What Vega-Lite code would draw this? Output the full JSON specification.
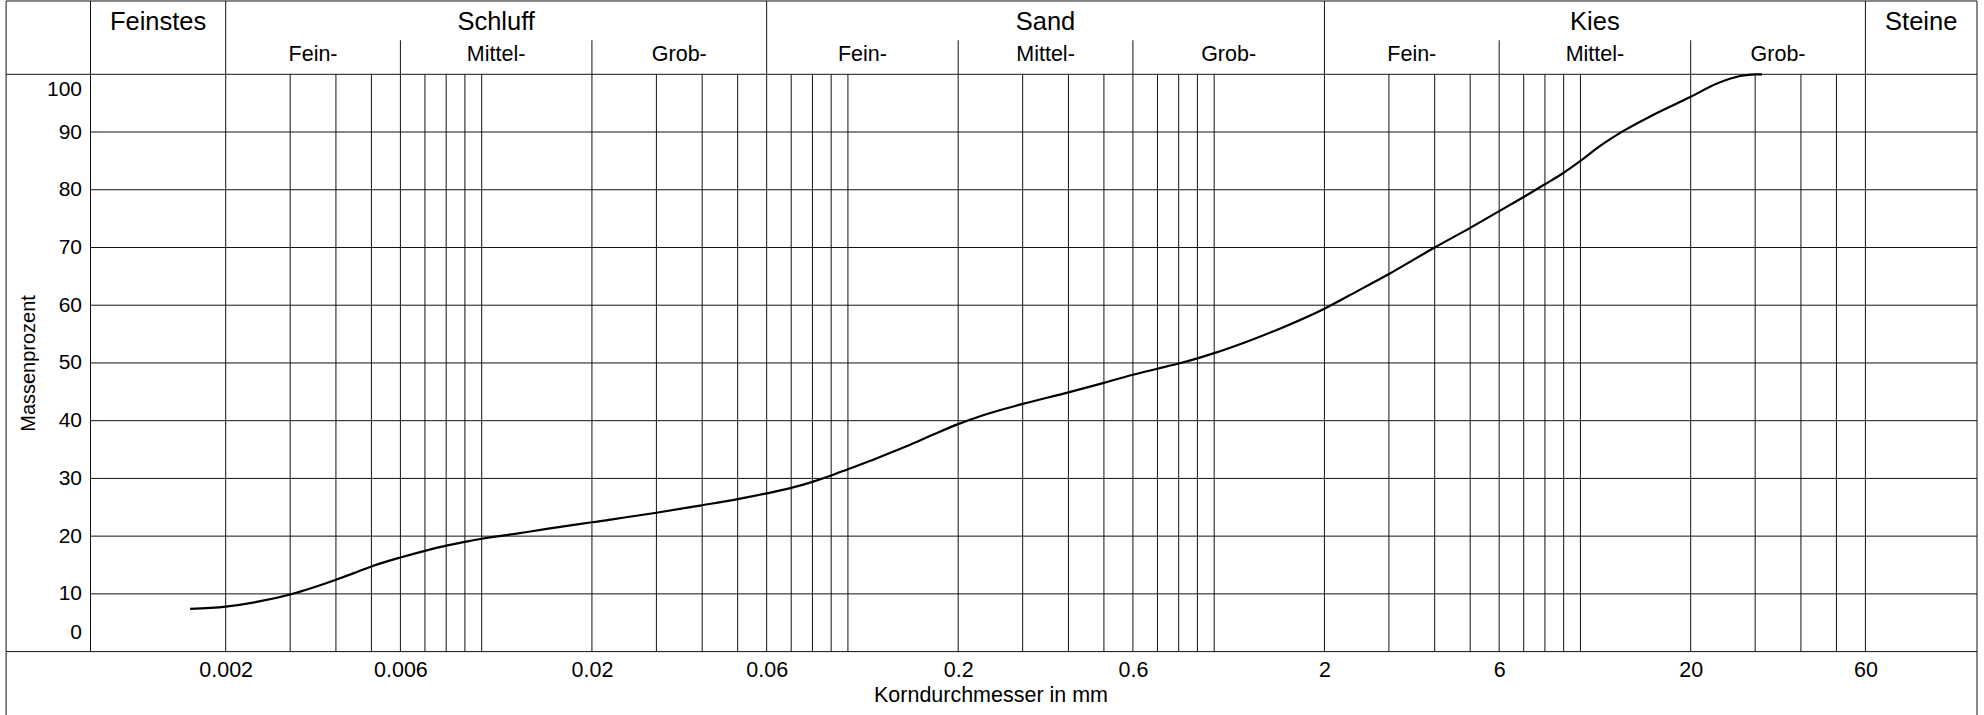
{
  "$schema": "https://vega.github.io/schema/vega-lite/v6.json",
  "width": 1886.5,
  "height": 577.3,
  "autosize": {"type": "none"},
  "padding": {"left": 90.5, "top": 74.3, "right": 7, "bottom": 63.2},
  "background": "white",
  "config": {"font": "Liberation Sans", "view": {"stroke": null}},
  "datasets": {
    "curve": [
      {"d": 0.0016, "p": 7.4}, {"d": 0.002, "p": 7.8}, {"d": 0.00243, "p": 8.6}, {"d": 0.003, "p": 9.9},
      {"d": 0.00347, "p": 11.1}, {"d": 0.004, "p": 12.45}, {"d": 0.00446, "p": 13.55}, {"d": 0.005, "p": 14.75},
      {"d": 0.006, "p": 16.3}, {"d": 0.007, "p": 17.45}, {"d": 0.008, "p": 18.35}, {"d": 0.009, "p": 19.0},
      {"d": 0.01, "p": 19.55}, {"d": 0.0122, "p": 20.35}, {"d": 0.01505, "p": 21.25}, {"d": 0.02, "p": 22.4},
      {"d": 0.03, "p": 24.05}, {"d": 0.0395, "p": 25.3}, {"d": 0.05, "p": 26.4}, {"d": 0.06, "p": 27.4},
      {"d": 0.07, "p": 28.35}, {"d": 0.08, "p": 29.4}, {"d": 0.09, "p": 30.5}, {"d": 0.1, "p": 31.6},
      {"d": 0.12, "p": 33.5}, {"d": 0.145, "p": 35.6}, {"d": 0.171, "p": 37.6}, {"d": 0.2, "p": 39.4},
      {"d": 0.234, "p": 40.95}, {"d": 0.3, "p": 42.9}, {"d": 0.4, "p": 44.9}, {"d": 0.5, "p": 46.55},
      {"d": 0.6, "p": 47.95}, {"d": 0.7, "p": 49.0}, {"d": 0.8, "p": 49.9}, {"d": 0.9, "p": 50.8},
      {"d": 1.0, "p": 51.7}, {"d": 1.253, "p": 53.9}, {"d": 1.545, "p": 56.2}, {"d": 2, "p": 59.4},
      {"d": 2.453, "p": 62.4}, {"d": 3, "p": 65.4}, {"d": 4, "p": 70.0}, {"d": 5, "p": 73.4},
      {"d": 6, "p": 76.3}, {"d": 7, "p": 78.75}, {"d": 8, "p": 80.95}, {"d": 9, "p": 82.95},
      {"d": 10, "p": 85.0}, {"d": 11.32, "p": 87.6}, {"d": 13.11, "p": 90.2}, {"d": 15.5, "p": 92.7},
      {"d": 20, "p": 96.1}, {"d": 23.6, "p": 98.4}, {"d": 27.3, "p": 99.7}, {"d": 30, "p": 100}, {"d": 31.3, "p": 100}
    ],
    "minor": [
      {"d": 0.003}, {"d": 0.004}, {"d": 0.005}, {"d": 0.007}, {"d": 0.008}, {"d": 0.009}, {"d": 0.01},
      {"d": 0.03}, {"d": 0.04}, {"d": 0.05}, {"d": 0.07}, {"d": 0.08}, {"d": 0.09}, {"d": 0.1},
      {"d": 0.3}, {"d": 0.4}, {"d": 0.5}, {"d": 0.7}, {"d": 0.8}, {"d": 0.9}, {"d": 1},
      {"d": 3}, {"d": 4}, {"d": 5}, {"d": 7}, {"d": 8}, {"d": 9}, {"d": 10},
      {"d": 30}, {"d": 40}, {"d": 50}
    ],
    "main": [{"d": 0.000855}, {"d": 0.002}, {"d": 0.06}, {"d": 2}, {"d": 60}],
    "sub": [{"d": 0.006}, {"d": 0.02}, {"d": 0.2}, {"d": 0.6}, {"d": 6}, {"d": 20}],
    "border": [{"d": 0.000503}, {"d": 121}],
    "hgrid": [{"p": 10}, {"p": 20}, {"p": 30}, {"p": 40}, {"p": 50}, {"p": 60}, {"p": 70}, {"p": 80}, {"p": 90}],
    "hframe": [{"p": 112.7}, {"p": 100}, {"p": 0}],
    "mainLabels": [
      {"label": "Feinstes", "d": 0.001308}, {"label": "Schluff", "d": 0.01095}, {"label": "Sand", "d": 0.3464},
      {"label": "Kies", "d": 10.95}, {"label": "Steine", "d": 85.2}
    ],
    "subLabels": [
      {"label": "Fein-", "d": 0.003464}, {"label": "Mittel-", "d": 0.01095}, {"label": "Grob-", "d": 0.03464},
      {"label": "Fein-", "d": 0.1095}, {"label": "Mittel-", "d": 0.3464}, {"label": "Grob-", "d": 1.095},
      {"label": "Fein-", "d": 3.464}, {"label": "Mittel-", "d": 10.95}, {"label": "Grob-", "d": 34.64}
    ]
  },
  "layer": [
    {
      "data": {"name": "minor"},
      "mark": {"type": "rule", "color": "#111", "strokeWidth": 1},
      "encoding": {
        "x": {"field": "d", "type": "quantitative",
          "scale": {"type": "log", "domain": [0.000855, 121], "nice": false},
          "axis": {
            "values": [0.002, 0.006, 0.02, 0.06, 0.2, 0.6, 2, 6, 20, 60],
            "format": "~g", "grid": false, "ticks": false, "domain": false,
            "labelFontSize": 21.5, "labelColor": "#000", "labelPadding": 8,
            "title": "Korndurchmesser in mm", "titleFontSize": 21.5, "titleFontWeight": "normal",
            "titleColor": "#000", "titlePadding": 3, "titleX": 900
          }
        },
        "y": {"datum": 0, "type": "quantitative",
          "scale": {"domain": [0, 100], "nice": false, "zero": true},
          "axis": {
            "values": [0, 10, 20, 30, 40, 50, 60, 70, 80, 90, 100],
            "grid": false, "ticks": false, "domain": false, "labelFlush": true,
            "labelOffset": {"condition": [{"test": "datum.value == 0", "value": -9}, {"test": "datum.value == 100", "value": 4}], "value": 0},
            "labelFontSize": 21, "labelColor": "#000", "labelPadding": 9,
            "title": "Massenprozent", "titleFontSize": 20, "titleFontWeight": "normal",
            "titleColor": "#000", "titlePadding": 8
          }
        },
        "y2": {"datum": 100}
      }
    },
    {
      "data": {"name": "main"},
      "mark": {"type": "rule", "color": "#111", "strokeWidth": 1},
      "encoding": {
        "x": {"field": "d", "type": "quantitative"},
        "y": {"datum": 112.7, "type": "quantitative"},
        "y2": {"datum": 0}
      }
    },
    {
      "data": {"name": "sub"},
      "mark": {"type": "rule", "color": "#111", "strokeWidth": 1},
      "encoding": {
        "x": {"field": "d", "type": "quantitative"},
        "y": {"datum": 105.9, "type": "quantitative"},
        "y2": {"datum": 0}
      }
    },
    {
      "data": {"name": "border"},
      "mark": {"type": "rule", "color": "#111", "strokeWidth": 1},
      "encoding": {
        "x": {"field": "d", "type": "quantitative"},
        "y": {"datum": 112.7, "type": "quantitative"},
        "y2": {"datum": -11.5}
      }
    },
    {
      "data": {"name": "hgrid"},
      "mark": {"type": "rule", "color": "#111", "strokeWidth": 1},
      "encoding": {
        "y": {"field": "p", "type": "quantitative"},
        "x": {"datum": 0.000855, "type": "quantitative"},
        "x2": {"datum": 121}
      }
    },
    {
      "data": {"name": "hframe"},
      "mark": {"type": "rule", "color": "#111", "strokeWidth": 1},
      "encoding": {
        "y": {"field": "p", "type": "quantitative"},
        "x": {"datum": 0.000503, "type": "quantitative"},
        "x2": {"datum": 121}
      }
    },
    {
      "data": {"name": "mainLabels"},
      "mark": {"type": "text", "fontSize": 25.5, "color": "#000", "align": "center", "baseline": "middle"},
      "encoding": {
        "x": {"field": "d", "type": "quantitative"},
        "y": {"datum": 109.1, "type": "quantitative"},
        "text": {"field": "label"}
      }
    },
    {
      "data": {"name": "subLabels"},
      "mark": {"type": "text", "fontSize": 21.5, "color": "#000", "align": "center", "baseline": "middle"},
      "encoding": {
        "x": {"field": "d", "type": "quantitative"},
        "y": {"datum": 103.4, "type": "quantitative"},
        "text": {"field": "label"}
      }
    },
    {
      "data": {"name": "curve"},
      "mark": {"type": "line", "color": "#000", "strokeWidth": 2.2, "interpolate": "monotone"},
      "encoding": {
        "x": {"field": "d", "type": "quantitative"},
        "y": {"field": "p", "type": "quantitative"}
      }
    }
  ]
}
